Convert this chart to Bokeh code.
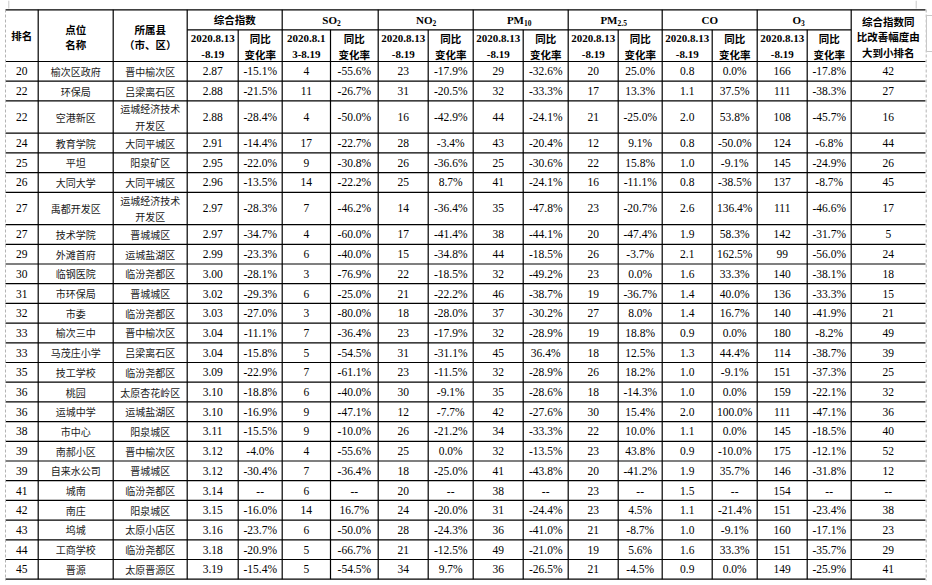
from bokeh.plotting import figure
from bokeh.models import Range1d, ColumnDataSource
from bokeh.core.properties import value
from bokeh.embed import file_html
from bokeh.resources import INLINE

# ---------------- data ----------------
rank = [20, 22, 22, 24, 25, 26, 27, 27, 29, 30, 31, 32, 33, 33, 35, 36, 36, 38, 39, 39, 41, 42, 43, 44, 45]
site = ["榆次区政府", "环保局", "空港新区", "教育学院", "平坦", "大同大学", "禹都开发区", "技术学院", "外滩首府",
        "临钢医院", "市环保局", "市委", "榆次三中", "马茂庄小学", "技工学校", "桃园", "运城中学", "市中心",
        "南郝小区", "自来水公司", "城南", "南庄", "坞城", "工商学校", "晋源"]
county = ["晋中榆次区", "吕梁离石区", "运城经济技术开发区", "大同平城区", "阳泉矿区", "大同平城区", "运城经济技术开发区",
          "晋城城区", "运城盐湖区", "临汾尧都区", "晋城城区", "临汾尧都区", "晋中榆次区", "吕梁离石区", "临汾尧都区",
          "太原杏花岭区", "运城盐湖区", "阳泉城区", "晋中榆次区", "晋城城区", "临汾尧都区", "阳泉城区", "太原小店区",
          "临汾尧都区", "太原晋源区"]
composite = [2.87, 2.88, 2.88, 2.91, 2.95, 2.96, 2.97, 2.97, 2.99, 3.00, 3.02, 3.03, 3.04, 3.04, 3.09, 3.10, 3.10,
             3.11, 3.12, 3.12, 3.14, 3.15, 3.16, 3.18, 3.19]
composite_chg = [-15.1, -21.5, -28.4, -14.4, -22.0, -13.5, -28.3, -34.7, -23.3, -28.1, -29.3, -27.0, -11.1, -15.8,
                 -22.9, -18.8, -16.9, -15.5, -4.0, -30.4, None, -16.0, -23.7, -20.9, -15.4]
so2 = [4, 11, 4, 17, 9, 14, 7, 4, 6, 3, 6, 3, 7, 5, 7, 6, 9, 9, 4, 7, 6, 14, 6, 5, 5]
so2_chg = [-55.6, -26.7, -50.0, -22.7, -30.8, -22.2, -46.2, -60.0, -40.0, -76.9, -25.0, -80.0, -36.4, -54.5, -61.1,
           -40.0, -47.1, -10.0, -55.6, -36.4, None, 16.7, -50.0, -66.7, -54.5]
no2 = [23, 31, 16, 28, 26, 25, 14, 17, 15, 22, 21, 18, 23, 31, 23, 30, 12, 26, 25, 18, 20, 24, 28, 21, 34]
no2_chg = [-17.9, -20.5, -42.9, -3.4, -36.6, 8.7, -36.4, -41.4, -34.8, -18.5, -22.2, -28.0, -17.9, -31.1, -11.5,
           -9.1, -7.7, -21.2, 0.0, -25.0, None, -20.0, -24.3, -12.5, 9.7]
pm10 = [29, 32, 44, 43, 25, 41, 35, 38, 44, 32, 46, 37, 32, 45, 32, 35, 42, 34, 32, 41, 38, 31, 36, 49, 36]
pm10_chg = [-32.6, -33.3, -24.1, -20.4, -30.6, -24.1, -47.8, -44.1, -18.5, -49.2, -38.7, -30.2, -28.9, 36.4, -28.9,
            -28.6, -27.6, -33.3, -13.5, -43.8, None, -24.4, -41.0, -21.0, -26.5]
pm25 = [20, 17, 21, 12, 22, 16, 23, 20, 26, 23, 19, 27, 19, 18, 26, 18, 30, 22, 23, 20, 23, 23, 21, 19, 21]
pm25_chg = [25.0, 13.3, -25.0, 9.1, 15.8, -11.1, -20.7, -47.4, -3.7, 0.0, -36.7, 8.0, 18.8, 12.5, 18.2, -14.3,
            15.4, 10.0, 43.8, -41.2, None, 4.5, -8.7, 5.6, -4.5]
co = [0.8, 1.1, 2.0, 0.8, 1.0, 0.8, 2.6, 1.9, 2.1, 1.6, 1.4, 1.4, 0.9, 1.3, 1.0, 1.0, 2.0, 1.1, 0.9, 1.9, 1.5, 1.1,
      1.0, 1.6, 0.9]
co_chg = [0.0, 37.5, 53.8, -50.0, -9.1, -38.5, 136.4, 58.3, 162.5, 33.3, 40.0, 16.7, 0.0, 44.4, -9.1, 0.0, 100.0,
          0.0, -10.0, 35.7, None, -21.4, -9.1, 33.3, 0.0]
o3 = [166, 111, 108, 124, 145, 137, 111, 142, 99, 140, 136, 140, 180, 114, 151, 159, 111, 145, 175, 146, 154, 151,
      160, 151, 149]
o3_chg = [-17.8, -38.3, -45.7, -6.8, -24.9, -8.7, -46.6, -31.7, -56.0, -38.1, -33.3, -41.9, -8.2, -38.7, -37.3,
          -22.1, -47.1, -18.5, -12.1, -31.8, None, -23.4, -17.1, -35.7, -25.9]
improve_rank = [42, 27, 16, 44, 26, 45, 17, 5, 24, 18, 15, 21, 49, 39, 25, 32, 36, 40, 52, 12, None, 38, 23, 29, 41]

group_names = [("综合指数", ""), ("SO", "2"), ("NO", "2"), ("PM", "10"), ("PM", "2.5"), ("CO", ""), ("O", "3")]
date_label = ["2020.8.13", "-8.19"]
date_label_so2 = ["2020.8.1", "3-8.19"]
chg_label = ["同比", "变化率"]
last_header = ["综合指数同", "比改善幅度由", "大到小排名"]

# ---------------- layout ----------------
edges = [5, 37.7, 112.7, 186.7, 237.7, 281.7, 330, 377.7, 427.7, 472.7, 522.7, 567.7, 617.7,
         661.7, 711.7, 756.7, 806.7, 850.7, 925]
TOP, MID, HEAD_BOT = 9.3, 29.3, 61
H1, H2 = 19.7, 32.3
centers = [(edges[i] + edges[i + 1]) / 2 for i in range(len(edges) - 1)]

def wrap(s, n=6):
    return [s[i:i + n] for i in range(0, len(s), n)]

county_lines = [wrap(c) for c in county]
heights = [H2 if len(cl) > 1 else H1 for cl in county_lines]
row_top = [HEAD_BOT]
for h in heights:
    row_top.append(row_top[-1] + h)
BOTTOM = row_top[-1]

def fmt_int(v):
    return "--" if v is None else str(v)
def fmt2(v):
    return "--" if v is None else f"{v:.2f}"
def fmt1(v):
    return "--" if v is None else f"{v:.1f}"
def pct(v):
    return "--" if v is None else f"{v:.1f}%"

num_cols = [
    (3, composite, fmt2), (4, composite_chg, pct),
    (5, so2, fmt_int), (6, so2_chg, pct),
    (7, no2, fmt_int), (8, no2_chg, pct),
    (9, pm10, fmt_int), (10, pm10_chg, pct),
    (11, pm25, fmt_int), (12, pm25_chg, pct),
    (13, co, fmt1), (14, co_chg, pct),
    (15, o3, fmt_int), (16, o3_chg, pct),
    (17, improve_rank, fmt_int), (0, rank, fmt_int),
]

p = figure(width=932, height=585, x_range=Range1d(0, 932), y_range=Range1d(585, 0),
           output_backend="svg", toolbar_location=None, x_axis_type=None, y_axis_type=None,
           min_border=0)
p.grid.visible = False
p.outline_line_color = None
p.background_fill_color = "white"
p.border_fill_color = "white"

# ---------------- grid lines ----------------
x0, y0, x1, y1 = [], [], [], []
for y in [TOP, HEAD_BOT] + row_top[1:]:
    x0.append(edges[0]); x1.append(edges[-1]); y0.append(y); y1.append(y)
x0.append(edges[3]); x1.append(edges[17]); y0.append(MID); y1.append(MID)
for i in range(1, 18):
    x0.append(edges[i]); x1.append(edges[i])
    y0.append(TOP if (i <= 3 or i % 2 == 1) else MID); y1.append(BOTTOM)
p.segment(x0=x0, y0=y0, x1=x1, y1=y1, line_color="black", line_width=1.2)

# page-break style gray marks
p.segment(x0=[5, 925.7], y0=[9, 9], x1=[5, 925.7], y1=[580, 580], line_color="#b4b4b4",
          line_width=1, line_dash="3 2")
p.segment(x0=[8.3, 915.7, 926, 926, 926], y0=[0, 0, 15, 15, 51], x1=[8.3, 915.7, 926, 932, 932],
          y1=[8, 8, 51, 15, 51], line_color="#c8c8c8", line_width=1)

def add_text(xs, ys, texts, font, size, style="normal", align="center", color="black"):
    src = ColumnDataSource(dict(x=xs, y=ys, t=texts))
    p.text(x="x", y="y", text="t", source=src, text_font=value(font), text_font_size=value(size),
           text_font_style=style, text_align=align, text_baseline="middle", text_color=color)

CJK = "Noto Sans CJK SC"
SERIF = "Liberation Serif"

# ---------------- header ----------------
hx, hy, ht = [], [], []
hx += [centers[0]]; hy += [35]; ht += ["排名"]
hx += [centers[1], centers[1]]; hy += [29, 43.5]; ht += ["点位", "名称"]
hx += [centers[2], centers[2]]; hy += [29, 43.5]; ht += ["所属县", "（市、区）"]
hx += [centers[17]] * 3; hy += [20.7, 36, 51.7]; ht += last_header
for g in range(7):
    rc = centers[4 + 2 * g]
    hx += [rc, rc]; hy += [37.7, 54]; ht += chg_label
hx += [(edges[3] + edges[5]) / 2]; hy += [19]; ht += [group_names[0][0]]
add_text(hx, hy, ht, CJK, "10.5px", "bold")

nx, ny, nt = [], [], []
for g in range(7):
    lc = centers[3 + 2 * g]
    lab = date_label_so2 if g == 1 else date_label
    nx += [lc, lc]; ny += [37.7, 54]; nt += lab
nx.append((edges[13] + edges[15]) / 2); ny.append(19); nt.append(group_names[5][0])
add_text(nx, ny, nt, SERIF, "11px", "bold")

# chemical formulae with subscripts
anchors = {1: 336.5, 2: 432, 3: 523.5, 4: 617, 6: 800.5}
mx, my, mt, sx, sy, st = [], [], [], [], [], []
for g, a in anchors.items():
    mx.append(a); my.append(19); mt.append(group_names[g][0])
    sx.append(a); sy.append(22.5); st.append(group_names[g][1])
add_text(mx, my, mt, SERIF, "11px", "bold", "right")
add_text(sx, sy, st, SERIF, "7.5px", "bold", "left")

# ---------------- body ----------------
bx, by, bt = [], [], []
cx, cy, ct = [], [], []
for r in range(len(rank)):
    yc = (row_top[r] + row_top[r + 1]) / 2
    for col, vals, f in num_cols:
        bx.append(centers[col]); by.append(yc); bt.append(f(vals[r]))
    cx.append(centers[1]); cy.append(yc); ct.append(site[r])
    lines = county_lines[r]
    if len(lines) == 1:
        cx.append(centers[2]); cy.append(yc); ct.append(lines[0])
    else:
        for k, ln in enumerate(lines):
            cx.append(centers[2]); cy.append(yc + (k - 0.5) * 16.5); ct.append(ln)
add_text(bx, by, bt, SERIF, "11.5px")
add_text(cx, cy, ct, CJK, "10px", color="#1a1a1a")

open("out.html", "w").write(file_html(p, INLINE))
